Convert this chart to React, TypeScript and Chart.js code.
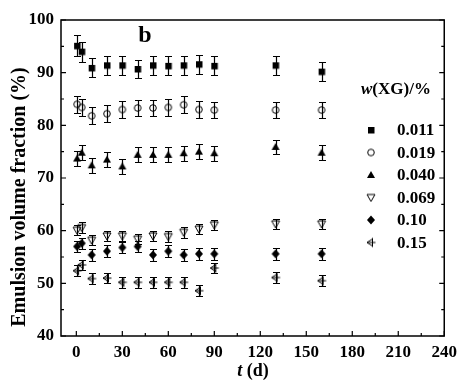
import React, { useEffect, useRef } from 'react';
import { Chart, registerables } from 'chart.js';

Chart.register(...registerables);

// ---- data ----
const days = [0.5, 3.5, 10, 20, 30, 40, 50, 60, 70, 80, 90, 130, 160];
const seriesLabels = ['0.011', '0.019', '0.040', '0.069', '0.10', '0.15'];
const s011 = [95.1, 94.0, 90.9, 91.4, 91.4, 90.7, 91.4, 91.3, 91.4, 91.6, 91.3, 91.4, 90.2];
const e011 = [2.0, 1.9, 1.8, 1.8, 1.8, 1.8, 1.8, 1.8, 1.8, 1.8, 1.8, 1.8, 1.8];
const s019 = [84.0, 83.4, 81.8, 82.2, 83.0, 83.3, 83.3, 83.4, 83.9, 83.0, 82.9, 82.9, 82.9];
const e019 = [1.6, 1.6, 1.6, 1.6, 1.6, 1.6, 1.6, 1.6, 1.6, 1.6, 1.6, 1.6, 1.6];
const s040 = [73.7, 74.8, 72.4, 73.5, 72.2, 74.4, 74.4, 74.4, 74.7, 75.0, 74.7, 75.9, 74.8];
const e040 = [1.4, 1.4, 1.4, 1.4, 1.4, 1.4, 1.4, 1.4, 1.4, 1.4, 1.4, 1.4, 1.4];
const s069 = [60.1, 60.6, 58.2, 59.0, 59.0, 58.4, 59.0, 58.9, 59.7, 60.3, 61.1, 61.3, 61.3];
const e069 = [1.0, 1.0, 1.0, 1.0, 1.0, 1.0, 1.0, 1.0, 1.0, 1.0, 1.0, 1.0, 1.0];
const s010 = [57.0, 57.6, 55.4, 56.1, 56.8, 57.0, 55.4, 56.1, 55.4, 55.6, 55.6, 55.6, 55.6];
const e010 = [1.1, 1.1, 1.1, 1.1, 1.1, 1.1, 1.1, 1.1, 1.1, 1.1, 1.1, 1.1, 1.1];
const s015 = [52.4, 53.5, 50.9, 51.0, 50.2, 50.2, 50.2, 50.2, 50.2, 48.6, 52.9, 51.1, 50.5];
const e015 = [1.0, 1.0, 1.0, 1.0, 1.0, 1.0, 1.0, 1.0, 1.0, 1.0, 1.0, 1.0, 1.0];
const xTickValues = [0, 30, 60, 90, 120, 150, 180, 210, 240];
const yTickValues = [40, 50, 60, 70, 80, 90, 100];

const allSeries = [s011, s019, s040, s069, s010, s015];
const allErrors = [e011, e019, e040, e069, e010, e015];
const markerKinds = ['square', 'circle', 'triangle', 'invtriangle', 'diamond', 'star'];

const FONT = '"Liberation Serif", "Times New Roman", serif';

function makeMarker(kind: string): HTMLCanvasElement {
  const c = document.createElement('canvas');
  c.width = 14;
  c.height = 14;
  const g = c.getContext('2d')!;
  g.fillStyle = '#000';
  g.strokeStyle = '#000';
  g.lineWidth = 1;
  const m = 7;
  g.beginPath();
  if (kind === 'square') {
    g.fillRect(m - 3, m - 3, 6.5, 6.5);
  } else if (kind === 'circle') {
    g.arc(m, m, 3.3, 0, Math.PI * 2);
    g.stroke();
  } else if (kind === 'triangle') {
    g.moveTo(m, m - 4);
    g.lineTo(m + 4, m + 3);
    g.lineTo(m - 4, m + 3);
    g.closePath();
    g.fill();
  } else if (kind === 'invtriangle') {
    g.moveTo(m - 4, m - 3);
    g.lineTo(m + 4, m - 3);
    g.lineTo(m, m + 4);
    g.closePath();
    g.stroke();
  } else if (kind === 'diamond') {
    g.moveTo(m, m - 4.5);
    g.lineTo(m + 4, m);
    g.lineTo(m, m + 4.5);
    g.lineTo(m - 4, m);
    g.closePath();
    g.fill();
  } else {
    g.moveTo(m - 4, m);
    g.lineTo(m + 1.5, m - 3.5);
    g.lineTo(m + 1.5, m + 3.5);
    g.closePath();
    g.stroke();
    g.beginPath();
    g.moveTo(m + 1.5, m - 4.5);
    g.lineTo(m + 1.5, m + 4.5);
    g.moveTo(m - 4, m);
    g.lineTo(m + 4.5, m);
    g.stroke();
  }
  return c;
}

export default function App() {
  const ref = useRef<HTMLCanvasElement | null>(null);

  useEffect(() => {
    const canvas = ref.current;
    if (!canvas) return;
    const markers = markerKinds.map(makeMarker);

    const decor = {
      id: 'decor',
      beforeDatasetsDraw(chart: any) {
        const { ctx } = chart;
        const xs = chart.scales.x;
        const ys = chart.scales.y;
        ctx.save();
        ctx.strokeStyle = '#000';
        ctx.lineWidth = 1.2;
        allSeries.forEach((s, si) => {
          const err = allErrors[si];
          s.forEach((v, i) => {
            const x = Math.round(xs.getPixelForValue(days[i])) + 0.5;
            const y1 = Math.round(ys.getPixelForValue(v + err[i])) + 0.5;
            const y2 = Math.round(ys.getPixelForValue(v - err[i])) + 0.5;
            ctx.beginPath();
            ctx.moveTo(x, y1);
            ctx.lineTo(x, y2);
            ctx.moveTo(x - 3.5, y1);
            ctx.lineTo(x + 3.5, y1);
            ctx.moveTo(x - 3.5, y2);
            ctx.lineTo(x + 3.5, y2);
            ctx.stroke();
          });
        });
        ctx.restore();
      },
      afterDraw(chart: any) {
        const { ctx, chartArea: a } = chart;
        const xs = chart.scales.x;
        const ys = chart.scales.y;
        ctx.save();
        ctx.strokeStyle = '#000';
        ctx.lineWidth = 1.5;
        ctx.strokeRect(a.left, a.top, a.right - a.left, a.bottom - a.top);
        ctx.lineWidth = 1.2;
        ctx.beginPath();
        for (let v = 40; v <= 100; v += 5) {
          const y = ys.getPixelForValue(v);
          const len = v % 10 === 0 ? 5 : 3;
          ctx.moveTo(a.left, y);
          ctx.lineTo(a.left + len, y);
          ctx.moveTo(a.right, y);
          ctx.lineTo(a.right - len, y);
        }
        for (let v = 0; v <= 240; v += 15) {
          const x = xs.getPixelForValue(v);
          const len = v % 30 === 0 ? 5 : 3;
          ctx.moveTo(x, a.bottom);
          ctx.lineTo(x, a.bottom - len);
        }
        ctx.stroke();

        ctx.fillStyle = '#000';
        // panel label
        ctx.font = `bold 24px ${FONT}`;
        ctx.textAlign = 'center';
        ctx.textBaseline = 'alphabetic';
        ctx.fillText('b', 145, 42);

        // y title
        ctx.save();
        ctx.translate(20, 197);
        ctx.rotate(-Math.PI / 2);
        ctx.font = `bold 20px ${FONT}`;
        ctx.textAlign = 'center';
        ctx.textBaseline = 'middle';
        ctx.fillText('Emulsion volume fraction (%)', 0, 0);
        ctx.restore();

        // x title
        ctx.textAlign = 'left';
        ctx.textBaseline = 'alphabetic';
        ctx.font = `italic bold 18px ${FONT}`;
        const tW = ctx.measureText('t').width;
        ctx.font = `bold 18px ${FONT}`;
        const dW = ctx.measureText(' (d)').width;
        const x0 = 253 - (tW + dW) / 2;
        ctx.font = `italic bold 18px ${FONT}`;
        ctx.fillText('t', x0, 376);
        ctx.font = `bold 18px ${FONT}`;
        ctx.fillText(' (d)', x0 + tW, 376);

        // legend title
        ctx.font = `italic bold 17px ${FONT}`;
        ctx.fillText('w', 361, 94);
        const wW = ctx.measureText('w').width;
        ctx.font = `bold 17px ${FONT}`;
        ctx.fillText('(XG)/%', 361 + wW, 94);

        // legend entries
        ctx.textBaseline = 'middle';
        seriesLabels.forEach((lab, i) => {
          const y = 130 + i * 22.5;
          const mk = markers[i];
          ctx.drawImage(mk, 371 - mk.width / 2, y - mk.height / 2);
          ctx.fillText(lab, 397, y + 1);
        });
        ctx.restore();
      },
    };

    const chart = new Chart(canvas, {
      type: 'scatter',
      data: {
        datasets: allSeries.map((s, i) => ({
          label: seriesLabels[i],
          data: s.map((v, j) => ({ x: days[j], y: v })),
          pointStyle: markers[i] as any,
          pointRadius: 5,
          showLine: false,
        })),
      },
      options: {
        responsive: false,
        animation: false,
        devicePixelRatio: 1,
        layout: { padding: { top: 20, right: 14, left: 0, bottom: 0 } },
        plugins: { legend: { display: false }, tooltip: { enabled: false } },
        scales: {
          x: {
            type: 'linear',
            min: -10,
            max: 240,
            afterBuildTicks: (sc: any) => {
              sc.ticks = xTickValues.map((v) => ({ value: v }));
            },
            afterFit: (sc: any) => {
              sc.height = 44;
            },
            grid: { display: false, drawTicks: false },
            border: { display: false },
            ticks: {
              padding: 6,
              color: '#000',
              maxRotation: 0,
              autoSkip: false,
              font: { family: FONT, size: 17, weight: 'bold' },
            },
          },
          y: {
            type: 'linear',
            min: 40,
            max: 100,
            afterBuildTicks: (sc: any) => {
              sc.ticks = yTickValues.map((v) => ({ value: v }));
            },
            afterFit: (sc: any) => {
              sc.width = 61;
            },
            grid: { display: false, drawTicks: false },
            border: { display: false },
            ticks: {
              padding: 7,
              color: '#000',
              autoSkip: false,
              font: { family: FONT, size: 17, weight: 'bold' },
            },
          },
        },
      },
      plugins: [decor],
    } as any);

    return () => chart.destroy();
  }, []);

  return (
    <div style={{ position: 'absolute', left: 0, top: 0, width: 463, height: 380, background: '#fff' }}>
      <canvas ref={ref} width={463} height={380} style={{ display: 'block' }} />
    </div>
  );
}
